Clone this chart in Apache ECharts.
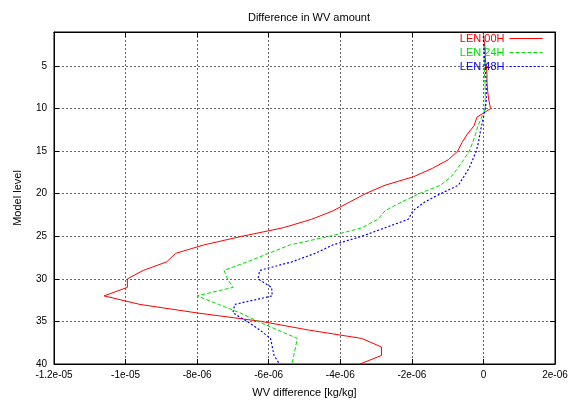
<!DOCTYPE html>
<html>
<head>
<meta charset="utf-8">
<title>Difference in WV amount</title>
<script src="https://cdn.jsdelivr.net/npm/echarts@6/dist/echarts.min.js"></script>
<style>
  html, body { margin: 0; padding: 0; background: #fff; }
  #chart { width: 571px; height: 404px; }
</style>
</head>
<body>
<div id="chart"></div>
<script>
// model levels 1..40
const levels = [1, 2, 3, 4, 5, 6, 7, 8, 9, 10, 11, 12, 13, 14, 15, 16, 17, 18, 19, 20,
  21, 22, 23, 24, 25, 26, 27, 28, 29, 30, 31, 32, 33, 34, 35, 36, 37, 38, 39, 40]

// WV difference [kg/kg] per level
const len00h = [0.0e-6, 0.02e-6, 0.05e-6, 0.05e-6, 0.08e-6, 0.1e-6, 0.1e-6, 0.12e-6, 0.15e-6, 0.2e-6,
  -0.18e-6, -0.26e-6, -0.45e-6, -0.6e-6, -0.72e-6, -0.98e-6, -1.42e-6, -1.95e-6, -2.75e-6, -3.3e-6,
  -3.75e-6, -4.2e-6, -4.8e-6, -5.6e-6, -6.75e-6, -7.8e-6, -8.6e-6, -8.85e-6, -9.5e-6, -9.95e-6,
  -9.95e-6, -10.6e-6, -9.6e-6, -8.0e-6, -6.2e-6, -4.9e-6, -3.4e-6, -2.85e-6, -2.85e-6, -3.45e-6]
const len24h = [0.0e-6, 0.0e-6, 0.02e-6, 0.02e-6, 0.03e-6, 0.03e-6, 0.04e-6, 0.05e-6, 0.05e-6, 0.05e-6,
  -0.05e-6, -0.15e-6, -0.22e-6, -0.3e-6, -0.4e-6, -0.55e-6, -0.72e-6, -0.9e-6, -1.2e-6, -1.8e-6,
  -2.3e-6, -2.75e-6, -2.95e-6, -3.4e-6, -4.3e-6, -5.4e-6, -6.0e-6, -6.6e-6, -7.25e-6, -7.15e-6,
  -7.0e-6, -8.0e-6, -7.4e-6, -6.8e-6, -6.3e-6, -5.75e-6, -5.2e-6, -5.25e-6, -5.3e-6, -5.35e-6]
const len48h = [0.0e-6, 0.0e-6, 0.02e-6, 0.03e-6, 0.05e-6, 0.06e-6, 0.08e-6, 0.08e-6, 0.08e-6, 0.05e-6,
  0.0e-6, -0.05e-6, -0.1e-6, -0.14e-6, -0.2e-6, -0.3e-6, -0.4e-6, -0.55e-6, -0.7e-6, -1.2e-6,
  -1.65e-6, -1.97e-6, -2.1e-6, -2.75e-6, -3.4e-6, -4.2e-6, -4.7e-6, -5.35e-6, -6.25e-6, -6.3e-6,
  -5.92e-6, -5.9e-6, -6.95e-6, -7.0e-6, -6.6e-6, -6.25e-6, -5.95e-6, -5.9e-6, -5.85e-6, -5.7e-6]

// tick labels
const xTickLabels = ['-1.2e-05', '-1e-05', '-8e-06', '-6e-06', '-4e-06', '-2e-06', '0', '2e-06']
const yTickValues = [5, 10, 15, 20, 25, 30, 35, 40]

const chartInstance = echarts.init(document.getElementById('chart'))

const font = 'Liberation Sans, Arial, sans-serif'
const gridLine = { show: true, lineStyle: { color: '#666', type: [2, 2], width: 1 } }
const mirrorTick = { show: true, inside: true, length: 5, lineStyle: { color: '#000' } }

function pairs (values) {
  return values.map((v, i) => [v, levels[i]])
}

const option = {
  animation: false,
  backgroundColor: '#fff',
  textStyle: { fontFamily: font },
  title: {
    text: 'Difference in WV amount',
    left: 304,
    textAlign: 'center',
    top: 7,
    textStyle: { fontSize: 11, fontWeight: 'normal', color: '#000', fontFamily: font }
  },
  legend: {
    orient: 'vertical',
    right: 28,
    top: 33,
    padding: 0,
    align: 'right',
    itemWidth: 33,
    itemHeight: 10,
    itemGap: 3,
    itemStyle: { opacity: 0 },  // only the line sample, no dot
    lineStyle: { width: 1 },
    textStyle: { fontSize: 11, fontFamily: font },
    data: [
      { name: 'LEN 00H', textStyle: { color: '#ff0000' } },
      { name: 'LEN 24H', textStyle: { color: '#00dd00' } },
      { name: 'LEN 48H', textStyle: { color: '#0000ff' } }
    ]
  },
  grid: {
    left: 54,
    right: 16,
    top: 32,
    bottom: 40,
    show: true,
    borderColor: '#000',
    borderWidth: 1
  },
  xAxis: [
    {
      type: 'value',
      min: -1.2e-5,
      max: 2e-6,
      interval: 2e-6,
      name: 'WV difference [kg/kg]',
      nameLocation: 'middle',
      nameGap: 23,
      nameTextStyle: { fontSize: 11, color: '#000', fontFamily: font },
      axisLine: { show: true, onZero: false, lineStyle: { color: '#000' } },
      axisTick: mirrorTick,
      axisLabel: {
        fontSize: 10,
        color: '#000',
        margin: 6,
        fontFamily: font,
        formatter: (v, i) => xTickLabels[i]
      },
      splitLine: gridLine
    },
    {
      // mirrored ticks on top border
      type: 'value',
      position: 'top',
      min: -1.2e-5,
      max: 2e-6,
      interval: 2e-6,
      axisLine: { show: true, onZero: false, lineStyle: { color: '#000' } },
      axisTick: mirrorTick,
      axisLabel: { show: false },
      splitLine: { show: false }
    }
  ],
  yAxis: [
    {
      type: 'value',
      inverse: true,
      min: 1,
      max: 40,
      name: 'Model level',
      nameLocation: 'middle',
      nameGap: 31,
      nameTextStyle: { fontSize: 11, color: '#000', fontFamily: font },
      axisLine: { show: true, onZero: false, lineStyle: { color: '#000' } },
      axisTick: Object.assign({ customValues: yTickValues }, mirrorTick),
      axisLabel: { fontSize: 10, color: '#000', margin: 7, fontFamily: font, customValues: yTickValues },
      splitLine: gridLine
    },
    {
      // mirrored ticks on right border
      type: 'value',
      position: 'right',
      inverse: true,
      min: 1,
      max: 40,
      axisLine: { show: true, onZero: false, lineStyle: { color: '#000' } },
      axisTick: Object.assign({ customValues: yTickValues }, mirrorTick),
      axisLabel: { show: false },
      splitLine: { show: false }
    }
  ],
  series: [
    {
      name: 'LEN 00H',
      type: 'line',
      data: pairs(len00h),
      symbol: 'none',
      color: '#ff0000',
      lineStyle: { width: 1, color: '#ff0000', type: 'solid' }
    },
    {
      name: 'LEN 24H',
      type: 'line',
      data: pairs(len24h),
      symbol: 'none',
      color: '#00dd00',
      lineStyle: { width: 1, color: '#00dd00', type: [4, 2] }
    },
    {
      name: 'LEN 48H',
      type: 'line',
      data: pairs(len48h),
      symbol: 'none',
      color: '#0000ff',
      lineStyle: { width: 1.2, color: '#0000ff', type: [2, 2] }
    }
  ]
}

chartInstance.setOption(option)
</script>
</body>
</html>
